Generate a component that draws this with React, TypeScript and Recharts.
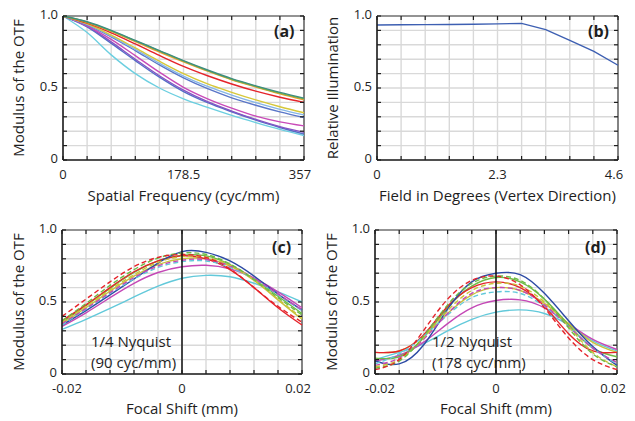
import React from 'react';
import { LineChart, Line, XAxis, YAxis, CartesianGrid, ReferenceLine, Label } from 'recharts';

// ---------- Panel (a): MTF vs spatial frequency ----------
const freqA = [0, 35.7, 71.4, 107.1, 142.8, 178.5, 214.2, 249.9, 285.6, 321.3, 357];
const freqLabelValsA = [0, 178.5, 357];
const freqLabelTextsA = ['0', '178.5', '357'];
const mtfTealA = [1, 0.96, 0.9, 0.83, 0.76, 0.69, 0.625, 0.565, 0.515, 0.47, 0.43];
const mtfGreenA = [1, 0.958, 0.897, 0.827, 0.757, 0.687, 0.621, 0.561, 0.511, 0.464, 0.424];
const mtfOrangeA = [1, 0.955, 0.893, 0.822, 0.75, 0.682, 0.617, 0.557, 0.507, 0.46, 0.418];
const mtfRedA = [1, 0.95, 0.883, 0.806, 0.726, 0.65, 0.585, 0.528, 0.478, 0.436, 0.4];
const mtfYellowA = [1, 0.945, 0.867, 0.778, 0.686, 0.6, 0.528, 0.47, 0.417, 0.37, 0.328];
const mtfLightBlueA = [1, 0.942, 0.861, 0.768, 0.672, 0.583, 0.511, 0.451, 0.398, 0.352, 0.313];
const mtfBlueA = [1, 0.938, 0.855, 0.76, 0.66, 0.57, 0.495, 0.432, 0.38, 0.334, 0.295];
const mtfMagentaA = [1, 0.932, 0.838, 0.725, 0.61, 0.505, 0.425, 0.36, 0.305, 0.265, 0.237];
const mtfPurpleA = [1, 0.93, 0.82, 0.7, 0.585, 0.485, 0.405, 0.34, 0.282, 0.232, 0.192];
const mtfBlue2A = [1, 0.925, 0.81, 0.69, 0.575, 0.475, 0.398, 0.335, 0.277, 0.226, 0.18];
const mtfCyanA = [1, 0.885, 0.73, 0.6, 0.5, 0.425, 0.365, 0.31, 0.26, 0.213, 0.17];

// ---------- Panel (b): relative illumination ----------
const fieldB = [0, 0.46, 0.92, 1.38, 1.84, 2.3, 2.76, 3.22, 3.68, 4.14, 4.6];
const fieldLabelValsB = [0, 2.3, 4.6];
const fieldLabelTextsB = ['0', '2.3', '4.6'];
const illumB = [0.938, 0.939, 0.94, 0.941, 0.943, 0.945, 0.949, 0.905, 0.83, 0.755, 0.658];

// ---------- Panels (c), (d): through-focus MTF ----------
const shiftCD = [-0.02, -0.016, -0.012, -0.008, -0.004, 0, 0.004, 0.008, 0.012, 0.016, 0.02];
const shiftLabelVals = [-0.02, 0, 0.02];
const shiftLabelTexts = ['-0.02', '0', '0.02'];

const blueC = [0.34, 0.44, 0.55, 0.66, 0.77, 0.85, 0.845, 0.785, 0.68, 0.555, 0.445];
const redDashC = [0.4, 0.52, 0.64, 0.745, 0.81, 0.83, 0.81, 0.73, 0.6, 0.47, 0.36];
const redC = [0.37, 0.48, 0.6, 0.71, 0.785, 0.82, 0.8, 0.725, 0.6, 0.46, 0.34];
const greenDashC = [0.37, 0.49, 0.615, 0.725, 0.805, 0.84, 0.83, 0.765, 0.655, 0.53, 0.41];
const greenC = [0.36, 0.475, 0.595, 0.705, 0.785, 0.825, 0.82, 0.76, 0.66, 0.54, 0.42];
const yellowC = [0.35, 0.46, 0.575, 0.68, 0.76, 0.8, 0.8, 0.75, 0.65, 0.515, 0.38];
const yellowDashC = [0.36, 0.47, 0.585, 0.69, 0.775, 0.815, 0.81, 0.755, 0.655, 0.52, 0.39];
const cyanDashC = [0.34, 0.45, 0.56, 0.66, 0.74, 0.78, 0.785, 0.74, 0.66, 0.55, 0.44];
const magentaDashC = [0.35, 0.455, 0.565, 0.67, 0.75, 0.79, 0.795, 0.75, 0.665, 0.555, 0.445];
const magentaC = [0.33, 0.425, 0.53, 0.63, 0.705, 0.745, 0.755, 0.73, 0.665, 0.57, 0.46];
const cyanC = [0.31, 0.38, 0.455, 0.535, 0.61, 0.665, 0.685, 0.675, 0.63, 0.57, 0.5];

const blueD = [0.09, 0.07, 0.2, 0.45, 0.64, 0.7, 0.69, 0.56, 0.37, 0.19, 0.06];
const redDashD = [0.03, 0.1, 0.3, 0.52, 0.65, 0.68, 0.62, 0.46, 0.25, 0.1, 0.03];
const redD = [0.15, 0.16, 0.27, 0.47, 0.6, 0.64, 0.6, 0.47, 0.28, 0.16, 0.15];
const greenDashD = [0.04, 0.09, 0.26, 0.48, 0.63, 0.68, 0.65, 0.52, 0.32, 0.14, 0.05];
const greenD = [0.11, 0.12, 0.25, 0.46, 0.61, 0.67, 0.64, 0.52, 0.34, 0.18, 0.12];
const yellowD = [0.15, 0.16, 0.26, 0.42, 0.55, 0.6, 0.58, 0.49, 0.35, 0.22, 0.15];
const yellowDashD = [0.05, 0.1, 0.25, 0.44, 0.58, 0.63, 0.61, 0.5, 0.33, 0.15, 0.05];
const magentaDashD = [0.06, 0.11, 0.24, 0.42, 0.56, 0.6, 0.58, 0.48, 0.33, 0.18, 0.08];
const cyanDashD = [0.07, 0.14, 0.26, 0.41, 0.53, 0.57, 0.56, 0.47, 0.33, 0.18, 0.07];
const magentaD = [0.09, 0.13, 0.22, 0.35, 0.46, 0.51, 0.515, 0.46, 0.35, 0.24, 0.17];
const cyanD = [0.1, 0.15, 0.21, 0.3, 0.38, 0.43, 0.445, 0.42, 0.34, 0.23, 0.16];

const yTicks = [0, 0.1, 0.2, 0.3, 0.4, 0.5, 0.6, 0.7, 0.8, 0.9, 1];
const yLabelVals = [0, 0.5, 1];
const yLabelTexts = ['0', '0.5', '1.0'];

// ---------- styles ----------
const FONT = '"Open Sans", "DejaVu Sans", sans-serif';
const INK = '#1e1e1e';
const GRID = '#d9d9d9';

type S = { key: string; values: number[]; color: string; dashed?: boolean };

const seriesA: S[] = [
  { key: 'cyan', values: mtfCyanA, color: '#6ccfe0' },
  { key: 'blue2', values: mtfBlue2A, color: '#5270c6' },
  { key: 'purple', values: mtfPurpleA, color: '#8654c4' },
  { key: 'magenta', values: mtfMagentaA, color: '#c94ab8' },
  { key: 'blue', values: mtfBlueA, color: '#5a76c8' },
  { key: 'lightblue', values: mtfLightBlueA, color: '#86b6e6' },
  { key: 'yellow', values: mtfYellowA, color: '#d6c83a' },
  { key: 'red', values: mtfRedA, color: '#e5232a' },
  { key: 'orange', values: mtfOrangeA, color: '#f29a2e' },
  { key: 'green', values: mtfGreenA, color: '#7ab845' },
  { key: 'teal', values: mtfTealA, color: '#3f8c80' },
];

const seriesB: S[] = [{ key: 'illum', values: illumB, color: '#3d5fb2' }];

const seriesC: S[] = [
  { key: 'cyan', values: cyanC, color: '#62c9da' },
  { key: 'magenta', values: magentaC, color: '#c447b6' },
  { key: 'yellow', values: yellowC, color: '#c9c23a' },
  { key: 'green', values: greenC, color: '#6dbb45' },
  { key: 'red', values: redC, color: '#e5232a' },
  { key: 'blue', values: blueC, color: '#2c4aa4' },
  { key: 'cyanDash', values: cyanDashC, color: '#62c9da', dashed: true },
  { key: 'magentaDash', values: magentaDashC, color: '#c447b6', dashed: true },
  { key: 'yellowDash', values: yellowDashC, color: '#c9c23a', dashed: true },
  { key: 'greenDash', values: greenDashC, color: '#6dbb45', dashed: true },
  { key: 'redDash', values: redDashC, color: '#e5232a', dashed: true },
];

const seriesD: S[] = [
  { key: 'cyan', values: cyanD, color: '#62c9da' },
  { key: 'magenta', values: magentaD, color: '#c447b6' },
  { key: 'yellow', values: yellowD, color: '#c9c23a' },
  { key: 'green', values: greenD, color: '#6dbb45' },
  { key: 'red', values: redD, color: '#e5232a' },
  { key: 'blue', values: blueD, color: '#2c4aa4' },
  { key: 'cyanDash', values: cyanDashD, color: '#62c9da', dashed: true },
  { key: 'magentaDash', values: magentaDashD, color: '#c447b6', dashed: true },
  { key: 'yellowDash', values: yellowDashD, color: '#c9c23a', dashed: true },
  { key: 'greenDash', values: greenDashD, color: '#6dbb45', dashed: true },
  { key: 'redDash', values: redDashD, color: '#e5232a', dashed: true },
];

function buildRows(xs: number[], series: S[]) {
  return xs.map((x, i) => {
    const row: Record<string, number> = { x };
    series.forEach((s) => {
      row[s.key] = s.values[i];
    });
    return row;
  });
}

function findLabel(v: number, vals: number[], texts: string[]) {
  const i = vals.findIndex((t) => Math.abs(t - v) < 1e-9);
  return i >= 0 ? { text: texts[i], index: i, count: vals.length } : null;
}

type PanelProps = {
  left: number;
  top: number;
  width: number;
  height: number;
  mTop: number;
  mRight: number;
  yAxisWidth: number;
  xAxisHeight: number;
  xs: number[];
  series: S[];
  curve: 'monotone' | 'linear' | 'natural';
  xLabelVals: number[];
  xLabelTexts: string[];
  xTitle: string;
  yTitle: string;
  xTitleOffset: number;
  yTitleX: number;
  zeroLine?: boolean;
  tag: string;
  tagLeft: number;
  tagTop: number;
  note?: string[];
  noteLeft?: number;
  noteTop?: number;
};

function Panel(p: PanelProps) {
  const pw = p.width - p.mRight - p.yAxisWidth;
  const ph = p.height - p.mTop - p.xAxisHeight;
  const data = buildRows(p.xs, p.series);
  const xMin = p.xs[0];
  const xMax = p.xs[p.xs.length - 1];

  const XTick = (tp: any) => {
    const { x, y, payload } = tp;
    const lab = findLabel(payload.value, p.xLabelVals, p.xLabelTexts);
    let dx = 0;
    if (lab) {
      if (lab.index === 0 && lab.text.startsWith('-')) dx = 5;
      if (lab.index === lab.count - 1) dx = -4;
    }
    return (
      <g>
        <line x1={x} y1={y} x2={x} y2={y - 4} stroke={INK} strokeWidth={1.2} />
        <line x1={x} y1={y - ph} x2={x} y2={y - ph + 4} stroke={INK} strokeWidth={1.2} />
        {lab !== null && (
          <text x={x + dx} y={y + 19} textAnchor="middle" fontSize={13} fontFamily={FONT} fill={INK}>
            {lab.text}
          </text>
        )}
      </g>
    );
  };

  const YTick = (tp: any) => {
    const { x, y, payload } = tp;
    const lab = findLabel(payload.value, yLabelVals, yLabelTexts);
    return (
      <g>
        <line x1={x} y1={y} x2={x + 4} y2={y} stroke={INK} strokeWidth={1.2} />
        <line x1={x + pw} y1={y} x2={x + pw - 4} y2={y} stroke={INK} strokeWidth={1.2} />
        {lab !== null && (
          <text x={x - 5} y={y - 1.5} dy="0.36em" textAnchor="end" fontSize={13} fontFamily={FONT} fill={INK}>
            {lab.text}
          </text>
        )}
      </g>
    );
  };

  const XTitle = (lp: any) => {
    const vb = lp.viewBox || { x: 0, y: 0, width: 0, height: 0 };
    return (
      <text x={vb.x + vb.width / 2} y={vb.y + p.xTitleOffset} textAnchor="middle" fontSize={15} fontFamily={FONT} fill={INK}>
        {p.xTitle}
      </text>
    );
  };

  const YTitle = (lp: any) => {
    const vb = lp.viewBox || { x: 0, y: 0, width: 0, height: 0 };
    const cx = vb.x + p.yTitleX;
    const cy = vb.y + vb.height / 2;
    return (
      <text
        x={cx}
        y={cy}
        dy="0.36em"
        transform={`rotate(-90, ${cx}, ${cy})`}
        textAnchor="middle"
        fontSize={15}
        fontFamily={FONT}
        fill={INK}
      >
        {p.yTitle}
      </text>
    );
  };

  return (
    <div style={{ position: 'absolute', left: p.left, top: p.top, width: p.width, height: p.height }}>
      <LineChart
        width={p.width}
        height={p.height}
        data={data}
        margin={{ top: p.mTop, right: p.mRight, left: 0, bottom: 0 }}
      >
        <CartesianGrid stroke={GRID} strokeWidth={1.4} />
        <XAxis
          dataKey="x"
          type="number"
          domain={[xMin, xMax]}
          ticks={p.xs}
          interval={0}
          height={p.xAxisHeight}
          tickSize={0}
          tickMargin={0}
          tickLine={false}
          tick={XTick}
          axisLine={{ stroke: INK, strokeWidth: 1.6 }}
        >
          <Label content={XTitle} />
        </XAxis>
        <YAxis
          type="number"
          domain={[0, 1]}
          ticks={yTicks}
          interval={0}
          width={p.yAxisWidth}
          tickSize={0}
          tickMargin={0}
          tickLine={false}
          tick={YTick}
          axisLine={{ stroke: INK, strokeWidth: 1.6 }}
        >
          <Label content={YTitle} />
        </YAxis>
        <ReferenceLine y={1} stroke="#444" strokeWidth={1.2} />
        <ReferenceLine x={xMax} stroke="#444" strokeWidth={1.2} />
        {p.series.map((s) => (
          <Line
            key={s.key}
            dataKey={s.key}
            type={p.curve}
            stroke={s.color}
            strokeWidth={1.4}
            strokeDasharray={s.dashed ? '5 3' : undefined}
            dot={false}
            activeDot={false}
            isAnimationActive={false}
          />
        ))}
        {p.zeroLine && <ReferenceLine x={0} stroke="#111" strokeWidth={1.5} />}
      </LineChart>
      <div
        style={{
          position: 'absolute',
          left: p.tagLeft,
          top: p.tagTop,
          fontFamily: FONT,
          fontWeight: 700,
          fontSize: 16,
          lineHeight: '16px',
          color: INK,
        }}
      >
        {p.tag}
      </div>
      {p.note && (
        <div
          style={{
            position: 'absolute',
            left: p.noteLeft,
            top: p.noteTop,
            fontFamily: FONT,
            fontSize: 15,
            lineHeight: '21px',
            color: INK,
            whiteSpace: 'nowrap',
          }}
        >
          {p.note.map((t) => (
            <div key={t}>{t}</div>
          ))}
        </div>
      )}
    </div>
  );
}

export default function App() {
  return (
    <div style={{ position: 'absolute', left: 0, top: 0, width: 635, height: 421, background: '#fff', overflow: 'hidden' }}>
      <Panel
        left={0}
        top={0}
        width={317}
        height={210}
        mTop={16}
        mRight={13}
        yAxisWidth={63}
        xAxisHeight={50}
        xs={freqA}
        series={seriesA}
        curve="monotone"
        xLabelVals={freqLabelValsA}
        xLabelTexts={freqLabelTextsA}
        xTitle="Spatial Frequency (cyc/mm)"
        yTitle="Modulus of the OTF"
        xTitleOffset={41}
        yTitleX={19}
        tag="(a)"
        tagLeft={274}
        tagTop={23}
      />
      <Panel
        left={315}
        top={0}
        width={320}
        height={210}
        mTop={16}
        mRight={17}
        yAxisWidth={62}
        xAxisHeight={50}
        xs={fieldB}
        series={seriesB}
        curve="linear"
        xLabelVals={fieldLabelValsB}
        xLabelTexts={fieldLabelTextsB}
        xTitle="Field in Degrees (Vertex Direction)"
        yTitle="Relative Illumination"
        xTitleOffset={41}
        yTitleX={18}
        tag="(b)"
        tagLeft={273}
        tagTop={23}
      />
      <Panel
        left={0}
        top={210}
        width={317}
        height={211}
        mTop={20}
        mRight={15}
        yAxisWidth={62}
        xAxisHeight={47}
        xs={shiftCD}
        series={seriesC}
        curve="natural"
        xLabelVals={shiftLabelVals}
        xLabelTexts={shiftLabelTexts}
        xTitle="Focal Shift (mm)"
        yTitle="Modulus of the OTF"
        xTitleOffset={40}
        yTitleX={19}
        zeroLine
        tag="(c)"
        tagLeft={272}
        tagTop={29}
        note={['1/4 Nyquist', '(90 cyc/mm)']}
        noteLeft={91}
        noteTop={121}
      />
      <Panel
        left={315}
        top={210}
        width={320}
        height={211}
        mTop={20}
        mRight={18}
        yAxisWidth={60}
        xAxisHeight={47}
        xs={shiftCD}
        series={seriesD}
        curve="natural"
        xLabelVals={shiftLabelVals}
        xLabelTexts={shiftLabelTexts}
        xTitle="Focal Shift (mm)"
        yTitle="Modulus of the OTF"
        xTitleOffset={40}
        yTitleX={17}
        zeroLine
        tag="(d)"
        tagLeft={270}
        tagTop={29}
        note={['1/2 Nyquist', '(178 cyc/mm)']}
        noteLeft={117}
        noteTop={121}
      />
    </div>
  );
}
